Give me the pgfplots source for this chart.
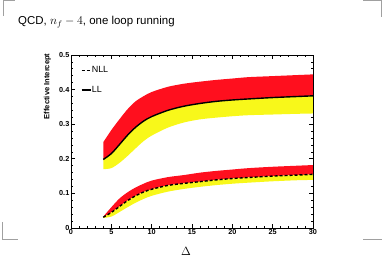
\documentclass[border=0pt]{standalone}
\usepackage{fontspec}
\setmainfont{Liberation Sans}
\setsansfont{Liberation Sans}
\usepackage{pgfplots}
\usepgfplotslibrary{fillbetween}
\pgfplotsset{compat=1.18}
\usepackage{pgfplotstable}
\definecolor{bandred}{RGB}{255,15,30}
\definecolor{bandyel}{RGB}{248,248,26}
\definecolor{cornergray}{RGB}{160,160,160}

\pgfplotstableread{
xx  lltop  ll     llbot  nlltop nll    nllbot
4   0.248  0.198  0.170  0.033  0.031  0.029
5   0.283  0.215  0.173  0.060  0.045  0.033
6   0.314  0.241  0.188  0.085  0.062  0.046
7   0.343  0.268  0.208  0.103  0.079  0.060
8   0.366  0.291  0.230  0.117  0.093  0.073
9   0.381  0.309  0.251  0.128  0.104  0.084
10  0.393  0.322  0.267  0.137  0.112  0.093
12  0.408  0.340  0.290  0.147  0.123  0.105
14  0.417  0.352  0.305  0.153  0.129  0.113
16  0.423  0.360  0.314  0.160  0.134  0.119
18  0.428  0.366  0.319  0.165  0.139  0.124
20  0.432  0.370  0.323  0.169  0.143  0.128
22  0.436  0.373  0.326  0.173  0.146  0.131
25  0.439  0.377  0.328  0.177  0.150  0.135
28  0.442  0.380  0.330  0.180  0.153  0.138
30  0.444  0.382  0.331  0.182  0.155  0.139
}\datatable

\begin{document}
\begin{tikzpicture}
\path (0bp,0bp) rectangle (382bp,256bp);
% corner marks
\draw[cornergray, line width=0.8bp] (3bp,240bp) -- (3bp,255.5bp) -- (15bp,255.5bp);
\draw[cornergray, line width=0.8bp] (363bp,255.5bp) -- (381bp,255.5bp) -- (381bp,239bp);
\draw[cornergray, line width=0.8bp] (2bp,34bp) -- (2bp,17bp) -- (18bp,17bp);
\draw[cornergray, line width=0.8bp] (363bp,17bp) -- (381.6bp,17bp);
% title
\node[anchor=base west, inner sep=0pt, font=\fontsize{11.5}{13}\selectfont] at (18bp,231bp) {QCD, $n_f-4$, one loop running};
\begin{axis}[
  at={(71bp,28bp)}, anchor=south west,
  scale only axis, width=242bp, height=173bp,
  xmin=0, xmax=30, ymin=0, ymax=0.5,
  xtick={0,5,...,30}, ytick={0,0.1,0.2,0.3,0.4,0.5},
  minor x tick num=4, minor y tick num=4,
  tick align=inside,
  major tick length=4bp, minor tick length=2bp,
  axis line style={line width=0.9bp},
  tick style={line width=0.7bp, black},
  /pgf/number format/assume math mode=true,
  ticklabel style={font=\fontsize{7.3}{8}\selectfont\bfseries},
  yticklabel style={/pgf/number format/fixed, /pgf/number format/precision=1, inner xsep=1.5bp},
  xticklabel style={inner ysep=1.5bp},
  ylabel={Effective Intercept},
  ylabel style={at={(axis description cs:-0.082,1.01)}, anchor=south east, font=\fontsize{7.6}{8}\selectfont\bfseries, inner sep=0pt},
  xlabel={$\Delta$},
  xlabel style={at={(axis description cs:0.475,-0.133)}, anchor=center, font=\fontsize{11.5}{13}\selectfont, inner sep=0pt},
  legend style={at={(axis description cs:0.04,0.945)}, anchor=north west, draw=none, fill=none,
    font=\fontsize{9}{10}\selectfont, row sep=8bp, inner sep=0pt,
    nodes={inner xsep=0.5bp}},
  legend cell align=left,
  legend image code/.code={\draw[#1] (0bp,0bp) -- (9bp,0bp);},
]
\addplot[draw=none, smooth, name path=lltop, forget plot] table[x=xx,y=lltop]{\datatable};
\addplot[draw=none, smooth, name path=llc, forget plot] table[x=xx,y=ll]{\datatable};
\addplot[draw=none, smooth, name path=llbot, forget plot] table[x=xx,y=llbot]{\datatable};
\addplot[draw=none, smooth, name path=nlltop, forget plot] table[x=xx,y=nlltop]{\datatable};
\addplot[draw=none, smooth, name path=nllc, forget plot] table[x=xx,y=nll]{\datatable};
\addplot[draw=none, smooth, name path=nllbot, forget plot] table[x=xx,y=nllbot]{\datatable};
\addplot[fill=bandred, draw=none, forget plot] fill between[of=lltop and llc];
\addplot[fill=bandyel, draw=none, forget plot] fill between[of=llc and llbot];
\addplot[fill=bandred, draw=none, forget plot] fill between[of=nlltop and nllc];
\addplot[fill=bandyel, draw=none, forget plot] fill between[of=nllc and nllbot];
\addplot[black, line width=1.4bp, dash pattern=on 3bp off 2bp, smooth] table[x=xx,y=nll]{\datatable};
\addlegendentry{NLL}
\addplot[black, line width=1.4bp, smooth] table[x=xx,y=ll]{\datatable};
\addlegendentry{LL}
\end{axis}
\end{tikzpicture}
\end{document}
